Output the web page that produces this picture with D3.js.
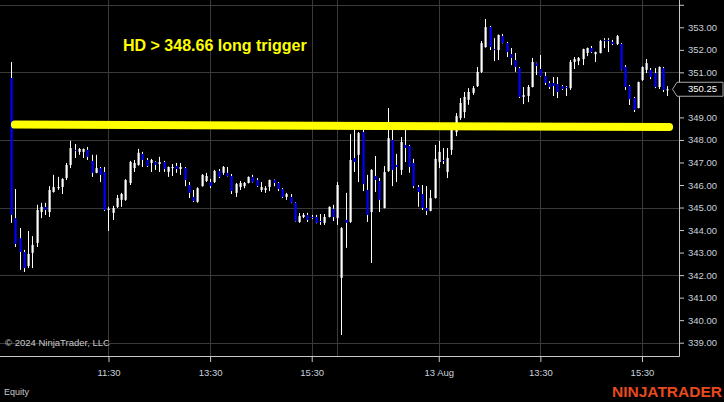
<!DOCTYPE html>
<html>
<head>
<meta charset="utf-8">
<script src="https://cdn.jsdelivr.net/npm/d3@7"></script>
<style>
html,body{margin:0;padding:0;background:#000;}
svg{display:block;}
</style>
</head>
<body>
<div id="chart"></div>
<script>
// ---- DATA (5-minute bars, HD, 12-13 Aug) ----
const barOpen = [350.75,344.53,343.64,343.03,342.40,342.99,343.43,344.80,345.03,344.80,345.69,345.86,345.91,346.31,346.89,347.56,347.47,347.47,347.56,347.07,346.54,346.75,346.58,344.89,344.76,345.03,345.34,345.34,346.09,346.75,346.89,347.38,347.11,346.98,347.02,346.93,347.02,346.58,346.75,346.84,346.71,346.75,346.00,345.47,345.25,345.95,346.18,346.13,346.13,346.62,346.54,346.54,346.40,345.65,345.91,345.95,346.09,346.36,346.22,345.78,345.78,345.91,346.22,346.09,345.82,345.47,345.47,345.21,344.36,344.58,344.67,344.58,344.58,344.40,344.32,344.58,344.94,344.53,
341.88,344.45,344.36,347.20,347.34,348.35,345.78,344.80,346.40,346.18,344.98,346.62,348.00,346.89,346.67,347.78,347.73,346.98,345.91,345.60,344.98,344.85,345.42,347.02,347.11,346.58,347.56,348.35,348.97,349.24,349.78,350.09,350.39,351.02,352.12,353.01,352.03,351.99,352.61,352.30,351.81,351.55,351.19,349.91,349.95,350.35,351.41,351.15,350.84,350.53,350.53,350.48,350.39,350.35,350.30,351.46,351.50,351.59,351.86,352.08,351.81,351.86,352.44,352.44,352.35,352.26,352.26,351.24,350.39,349.86,349.42,350.66,351.11,351.11,350.97,350.35,351.19,350.20];
const barHigh = [351.46,345.82,344.09,343.12,343.96,343.73,345.12,345.21,345.21,345.95,346.45,346.36,346.30,346.98,347.96,347.82,347.64,347.62,347.69,347.34,347.34,346.80,346.80,345.03,345.07,345.56,345.65,346.26,347.07,347.11,347.60,347.47,347.20,347.16,347.05,347.25,347.07,346.82,346.93,346.98,346.98,346.80,346.13,345.78,345.90,346.48,346.54,346.27,346.67,346.71,346.84,346.80,346.49,346.09,346.18,346.13,346.38,346.45,346.31,346.13,345.95,346.24,346.24,346.13,345.86,345.65,345.60,345.23,344.76,344.76,344.76,344.67,344.67,344.71,344.71,345.05,345.12,346.13,
344.13,345.65,348.26,348.53,348.35,348.53,346.45,346.70,347.29,346.31,346.84,349.42,348.53,347.38,348.13,348.49,347.78,347.16,346.00,346.00,345.95,345.78,347.78,347.96,347.64,347.64,348.67,349.19,349.86,350.13,350.30,350.39,351.24,352.39,353.37,353.06,352.52,352.68,352.70,352.35,352.08,351.86,351.24,350.35,350.44,351.64,351.43,351.77,351.01,350.61,350.79,350.79,350.44,350.39,351.55,351.68,351.68,352.05,352.10,352.17,351.92,352.44,352.52,352.52,352.44,352.66,352.30,351.32,350.44,349.91,350.59,351.26,351.59,351.19,351.19,351.26,351.24,350.39];
const barLow = [344.32,343.25,342.23,342.14,342.31,342.31,343.25,344.53,344.67,344.58,345.66,345.78,345.60,346.22,346.75,347.20,347.34,347.20,347.11,346.36,346.52,346.13,344.85,343.96,344.45,344.98,345.03,345.30,346.00,346.58,346.86,346.80,346.80,346.58,346.67,346.58,346.58,346.36,346.40,346.54,346.45,345.95,345.42,345.25,345.21,345.93,346.13,345.86,346.09,346.31,346.45,346.38,345.60,345.47,345.78,345.86,346.07,346.11,345.91,345.69,345.65,345.73,345.95,345.73,345.42,345.34,345.19,344.38,344.32,344.53,344.36,344.49,344.30,344.23,344.23,344.56,344.40,344.23,
339.34,343.21,344.32,346.58,346.13,345.73,344.36,342.54,345.69,344.80,344.96,346.58,345.95,346.13,346.45,347.02,346.54,345.86,345.03,344.89,344.67,344.83,345.40,346.75,346.93,346.31,347.34,348.17,348.89,348.97,349.56,350.00,350.35,350.97,352.10,351.99,351.50,351.55,352.28,351.68,351.32,351.02,349.86,349.59,349.68,350.33,350.88,350.82,350.44,350.26,349.95,349.86,350.22,349.95,350.22,351.15,351.32,351.32,351.72,351.86,351.46,351.84,352.08,351.90,352.21,352.21,351.09,350.22,349.55,349.24,349.40,350.62,350.97,350.70,350.30,350.26,350.13,349.95];
const barClose = [344.67,343.38,343.03,342.31,342.94,343.34,344.89,345.03,344.89,345.78,345.91,345.91,346.27,346.89,347.64,347.52,347.60,347.60,347.25,346.54,346.75,346.45,344.89,344.94,344.98,345.42,345.60,346.22,347.02,346.98,347.43,347.11,346.84,347.11,346.89,347.02,346.71,346.80,346.80,346.71,346.80,346.22,345.65,345.29,345.86,346.45,346.40,345.95,346.62,346.36,346.80,346.40,345.73,346.04,346.09,346.09,346.36,346.13,345.95,345.91,345.86,346.22,346.09,345.82,345.47,345.60,345.21,344.40,344.62,344.67,344.45,344.53,344.32,344.36,344.58,345.03,344.58,346.00,
344.09,344.32,347.11,347.02,348.31,346.04,344.67,346.67,346.22,345.34,346.58,348.08,346.67,346.80,347.91,347.64,346.80,345.95,345.69,344.98,344.85,345.42,347.16,347.47,347.07,347.20,348.44,349.06,349.64,349.91,350.13,350.30,351.02,352.30,353.01,352.12,351.99,352.66,352.30,351.90,351.64,351.24,349.91,349.99,350.35,351.46,351.28,350.84,350.53,350.35,350.39,350.13,350.26,350.30,351.46,351.59,351.64,352.03,352.08,351.90,351.90,352.39,352.39,352.39,352.26,352.61,351.11,350.35,349.81,349.33,350.57,351.24,351.41,350.79,350.35,351.24,350.22,350.25];

const xTickBars   = [23, 47, 71, 101, 125, 149];
const xTickLabels = ["11:30", "13:30", "15:30", "13 Aug", "13:30", "15:30"];
const sessionBreakBar = 77;
const yTickValues = [339,340,341,342,343,344,345,346,347,348,349,350,351,352,353,354];
const yGridValues = [339, 342, 345, 348, 351, 354];
const lastPrice = 350.25;
const triggerLevel = [{bar: 0.9, price: 348.68}, {bar: 155.4, price: 348.57}];
const titleText = "HD > 348.66 long trigger";

// ---- LAYOUT ----
const W = 724, H = 402;
const plotRight = 679, plotBottom = 356;
const FONT = "Arial, 'Liberation Sans', sans-serif";

const x = d3.scaleLinear().domain([0, 155]).range([11.1, 667.4]);
const y = d3.scaleLinear().domain([339, 353]).range([342.7, 27.3]);

const svg = d3.select("#chart").append("svg").attr("width", W).attr("height", H)
  .style("background", "#000");
svg.append("rect").attr("width", W).attr("height", H).attr("fill", "#000");

const plot = svg.append("g");
plot.append("clipPath").attr("id", "clip").append("rect")
  .attr("x", 0).attr("y", 0).attr("width", plotRight).attr("height", plotBottom);

// grid
const grid = plot.append("g").attr("stroke", "#3a3a3a").attr("stroke-width", 1);
grid.selectAll("line.h").data(yGridValues).join("line")
  .attr("x1", 0).attr("x2", plotRight)
  .attr("y1", d => Math.round(y(d)) + 0.5).attr("y2", d => Math.round(y(d)) + 0.5);
grid.selectAll("line.v").data(xTickBars.concat([sessionBreakBar])).join("line")
  .attr("y1", 0).attr("y2", plotBottom)
  .attr("x1", d => Math.round(x(d)) + 0.5).attr("x2", d => Math.round(x(d)) + 0.5);

// candles
const bars = d3.range(barOpen.length).map(i => ({
  i, o: barOpen[i], h: barHigh[i], l: barLow[i], c: barClose[i]
}));
const cg = plot.append("g").attr("clip-path", "url(#clip)");
cg.selectAll("line.wick").data(bars).join("line")
  .attr("x1", d => Math.round(x(d.i)) + 0.5).attr("x2", d => Math.round(x(d.i)) + 0.5)
  .attr("y1", d => y(d.h)).attr("y2", d => y(d.l))
  .attr("stroke", "#ffffff").attr("stroke-width", 1);
cg.selectAll("rect.body").data(bars).join("rect")
  .attr("x", d => Math.round(x(d.i)) - 0.5)
  .attr("width", 2.2)
  .attr("y", d => y(Math.max(d.o, d.c)))
  .attr("height", d => Math.max(1, Math.abs(y(d.o) - y(d.c))))
  .attr("fill", d => d.c >= d.o ? "#ffffff" : "#0000ff");

// trigger line (drawing)
plot.append("path").datum(triggerLevel)
  .attr("d", d3.line().x(d => x(d.bar)).y(d => y(d.price)))
  .attr("stroke", "#ffff00").attr("stroke-width", 8)
  .attr("stroke-linecap", "round").attr("fill", "none");

// title text
svg.append("text").attr("x", 123).attr("y", 51)
  .attr("font-family", FONT).attr("font-weight", "bold").attr("font-size", 16)
  .attr("fill", "#ffff00").text(titleText);

// axes
const axisColor = "#c8c8c8";
const labelColor = "#c9d1dc";
svg.append("line").attr("x1", plotRight + 0.5).attr("x2", plotRight + 0.5)
  .attr("y1", 0).attr("y2", plotBottom + 0.5).attr("stroke", axisColor);
svg.append("line").attr("x1", 0).attr("x2", plotRight + 0.5)
  .attr("y1", plotBottom + 0.5).attr("y2", plotBottom + 0.5).attr("stroke", axisColor);

// labels hidden where the last-price marker sits (350.00) and off the top (354.00)
const hiddenYLabels = [350, 354];
const yAxis = d3.axisRight(y).tickValues(yTickValues)
  .tickFormat(d => hiddenYLabels.includes(d) ? "" : d3.format(".2f")(d)).tickSize(5).tickPadding(4);
const gy = svg.append("g").attr("transform", `translate(${plotRight},0)`).call(yAxis);
gy.select(".domain").remove();
gy.selectAll(".tick line").attr("stroke", axisColor);
gy.selectAll(".tick text").attr("fill", labelColor).attr("font-family", FONT).attr("font-size", 9.5);

const xAxis = d3.axisBottom(x).tickValues(xTickBars)
  .tickFormat((d, k) => xTickLabels[k]).tickSize(6).tickPadding(7);
const gx = svg.append("g").attr("transform", `translate(0,${plotBottom})`).call(xAxis);
gx.select(".domain").remove();
gx.selectAll(".tick line").attr("stroke", axisColor);
gx.selectAll(".tick text").attr("fill", labelColor).attr("font-family", FONT).attr("font-size", 9.5);

// last price marker
const py = y(lastPrice);
const marker = svg.append("g");
marker.append("path")
  .attr("d", `M${plotRight - 6.5},${py} L${plotRight - 2},${py - 7} L723,${py - 7} L723,${py + 7} L${plotRight - 2},${py + 7} Z`)
  .attr("fill", "#000").attr("stroke", "#a8a8a8").attr("stroke-width", 1);
marker.append("text").attr("x", 688).attr("y", py).attr("dy", "0.34em")
  .attr("font-family", FONT).attr("font-size", 9.5).attr("fill", "#ffffff")
  .text(d3.format(".2f")(lastPrice));

// footer texts
svg.append("text").attr("x", 5).attr("y", 346)
  .attr("font-family", FONT).attr("font-size", 9.5).attr("fill", "#c8c8c8")
  .text("© 2024 NinjaTrader, LLC");
svg.append("text").attr("x", 4).attr("y", 395)
  .attr("font-family", FONT).attr("font-size", 9).attr("fill", "#c8c8c8")
  .text("Equity");
svg.append("text").attr("x", 722).attr("y", 397).attr("text-anchor", "end")
  .attr("font-family", FONT).attr("font-weight", "bold").attr("font-size", 15.5)
  .attr("fill", "#e8491f").text("NINJATRADER");
</script>
</body>
</html>
